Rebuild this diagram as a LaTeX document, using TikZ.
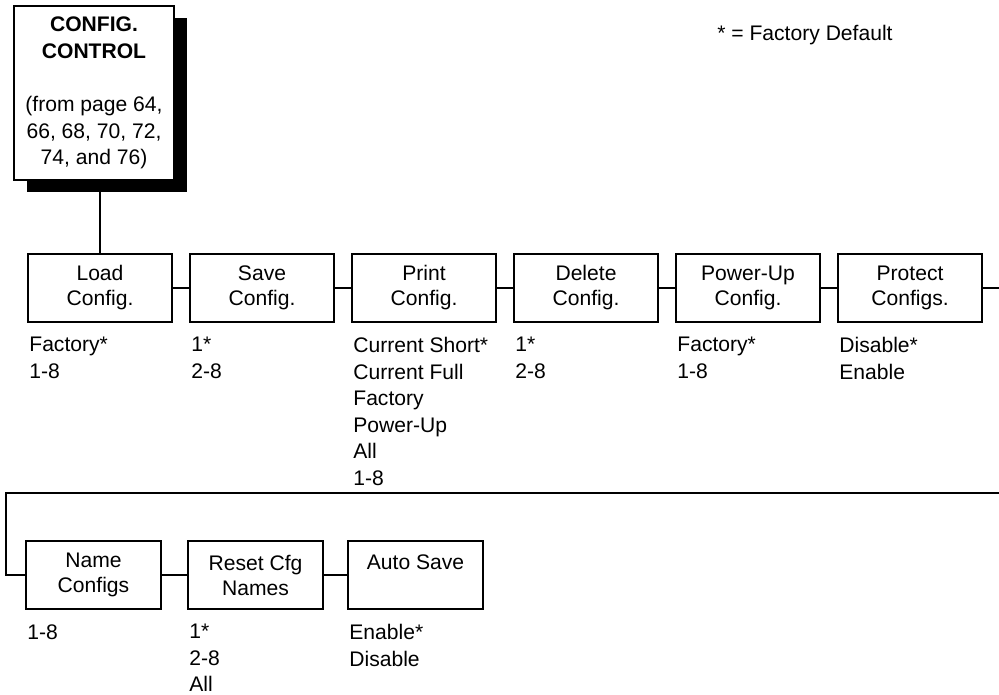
\documentclass[tikz,border=0pt]{standalone}
\usepackage{fontspec}
\setmainfont{Liberation Sans}
\usepackage{tikz}
\usetikzlibrary{positioning, shadows}

\begin{document}
\begin{tikzpicture}[
  menubox/.style={draw, line width=1.1pt, minimum width=2.88cm, minimum height=1.36cm, align=center, inner sep=0pt, font=\fontsize{12}{14.2}\selectfont},
  smallbox/.style={menubox, minimum width=2.70cm},
  choices/.style={anchor=north west, align=left, inner sep=0pt, font=\fontsize{12}{15.1}\selectfont},
  link/.style={line width=1.1pt}
]
\useasboundingbox (0,0) rectangle (19.98,-13.88);

% top of the menu
\node[draw, line width=1.1pt, fill=white, minimum width=3.2cm, minimum height=3.48cm, align=center, inner sep=0pt,
  font=\fontsize{12}{15.2}\selectfont,
  drop shadow={shadow xshift=0.26cm, shadow yshift=-0.24cm, fill=black, opacity=1}] (control) at (1.88,-1.86)
  {\textbf{CONFIG.}\\\textbf{CONTROL}\\[15.2pt](from page 64,\\66, 68, 70, 72,\\74, and 76)};
\node[anchor=base west, inner sep=0pt, font=\fontsize{12}{15.1}\selectfont] (legend) at (14.34,-0.80) {* = Factory Default};

% first row
\node[menubox] (load) at (2.00,-5.76) {Load\\Config.};
\node[menubox] (save) at (5.24,-5.76) {Save\\Config.};
\node[menubox] (print) at (8.48,-5.76) {Print\\Config.};
\node[menubox] (delete) at (11.72,-5.76) {Delete\\Config.};
\node[menubox] (powerup) at (14.96,-5.76) {Power-Up\\Config.};
\node[menubox] (protect) at (18.20,-5.76) {Protect\\Configs.};

\node[choices] (loadopt) at ([xshift=0.04cm, yshift=-0.28cm]load.south west) {Factory*\\1-8};
\node[choices] (saveopt) at ([xshift=0.04cm, yshift=-0.28cm]save.south west) {1*\\2-8};
\node[choices] (printopt) at ([xshift=0.04cm, yshift=-0.28cm]print.south west) {Current Short*\\Current Full\\Factory\\Power-Up\\All\\1-8};
\node[choices] (deleteopt) at ([xshift=0.04cm, yshift=-0.28cm]delete.south west) {1*\\2-8};
\node[choices] (powerupopt) at ([xshift=0.04cm, yshift=-0.28cm]powerup.south west) {Factory*\\1-8};
\node[choices] (protectopt) at ([xshift=0.04cm, yshift=-0.28cm]protect.south west) {Disable*\\Enable};

% second row
\node[smallbox] (name) at (1.87,-11.50) {Name\\Configs};
\node[smallbox] (reset) at (5.11,-11.50) {Reset Cfg\\Names};
\node[smallbox] (autosave) at (8.31,-11.50) {Auto Save\\~};

\node[choices] (nameopt) at ([xshift=0.04cm, yshift=-0.28cm]name.south west) {1-8};
\node[choices] (resetopt) at ([xshift=0.04cm, yshift=-0.28cm]reset.south west) {1*\\2-8\\All};
\node[choices] (autosaveopt) at ([xshift=0.04cm, yshift=-0.28cm]autosave.south west) {Enable*\\Disable};

% connectors
\coordinate (rowend) at (19.98,-5.76);
\coordinate (wrapin) at (19.98,-9.86);
\coordinate (wrapcorner) at (0.12,-9.86);
\draw[link] (control.south -| load.north) -- (load.north);
\foreach \a/\b in {load/save, save/print, print/delete, delete/powerup, powerup/protect, protect/rowend, name/reset, reset/autosave}
  \draw[link] (\a) -- (\b);
\draw[link] (wrapin) -- (wrapcorner) |- (name);
\end{tikzpicture}
\end{document}
